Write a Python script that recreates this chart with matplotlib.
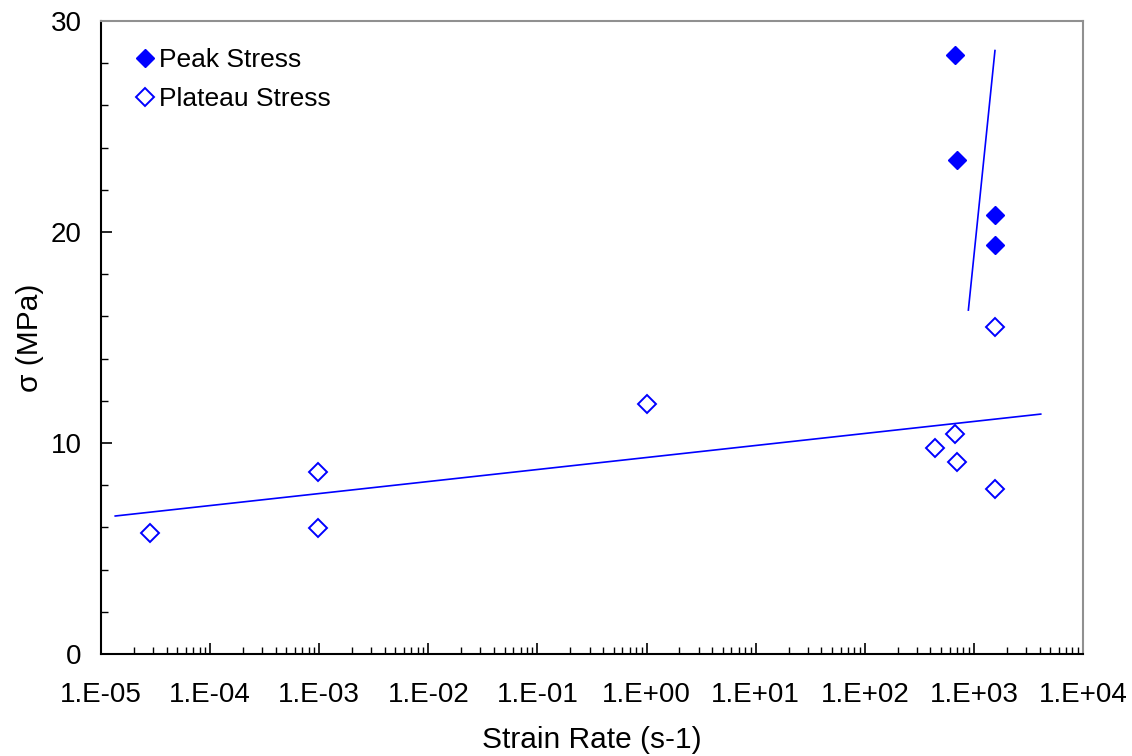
import matplotlib.pyplot as plt
from matplotlib.ticker import LogLocator, MultipleLocator, FixedLocator
import numpy as np

plt.rcParams['font.family'] = ['Liberation Sans', 'DejaVu Sans']

# data
peak_rate = [676, 700, 1560, 1560]
peak_stress = [28.4, 23.4, 20.8, 19.4]

plateau_rate = [2.8e-5, 9.8e-4, 9.8e-4, 1.0, 440, 676, 700, 1560, 1560]
plateau_stress = [5.73, 8.63, 5.97, 11.85, 9.76, 10.43, 9.1, 15.5, 7.82]

# trend line end points
peak_fit_rate = [890, 1560]
peak_fit_stress = [16.3, 28.6]
plateau_fit_rate = [1.35e-5, 4.1e3]
plateau_fit_stress = [6.54, 11.37]

x_ticks = [1e-5, 1e-4, 1e-3, 1e-2, 1e-1, 1e0, 1e1, 1e2, 1e3, 1e4]
x_ticklabels = ['1.E-05', '1.E-04', '1.E-03', '1.E-02', '1.E-01',
                '1.E+00', '1.E+01', '1.E+02', '1.E+03', '1.E+04']

blue = '#0000ff'

fig = plt.figure(figsize=(11.32, 7.56), dpi=100)
ax = fig.add_axes([101 / 1132, 102 / 756, 982 / 1132, 633 / 756])

ax.plot(peak_fit_rate, peak_fit_stress, color=blue, lw=1.2)
ax.plot(plateau_fit_rate, plateau_fit_stress, color=blue, lw=1.2)

ax.plot(peak_rate, peak_stress, ls='none', marker='D', ms=9.2,
        color=blue, mec=blue, label='Peak Stress')
ax.plot(plateau_rate, plateau_stress, ls='none', marker='D', ms=9.2,
        mfc='white', mec=blue, mew=1.4, label='Plateau Stress')

ax.set_xscale('log')
ax.set_xlim(1e-5, 1e4)
ax.set_ylim(0, 30)

ax.xaxis.set_major_locator(FixedLocator(x_ticks))
ax.set_xticklabels(x_ticklabels)
ax.xaxis.set_minor_locator(LogLocator(base=10, subs=np.arange(2, 10), numticks=20))
ax.xaxis.set_minor_formatter(plt.NullFormatter())
ax.yaxis.set_major_locator(MultipleLocator(10))
ax.yaxis.set_minor_locator(MultipleLocator(2))

ax.tick_params(axis='both', which='major', direction='in', length=8, width=1.2,
               labelsize=20, colors='black')
ax.tick_params(axis='both', which='minor', direction='in', length=5, width=1.0)
ax.tick_params(axis='x', which='major', pad=20)
ax.tick_params(axis='y', which='major', pad=14)

ax.spines['left'].set_linewidth(1.5)
ax.spines['bottom'].set_linewidth(1.5)
ax.spines['top'].set_color('#909090')
ax.spines['right'].set_color('#909090')
ax.spines['top'].set_linewidth(1.5)
ax.spines['right'].set_linewidth(1.5)

ax.set_xlabel('Strain Rate (s-1)', fontsize=21.5, labelpad=13)
ax.set_ylabel('σ (MPa)', fontsize=21.5, labelpad=5)

ax.legend(loc='upper left', frameon=False, fontsize=19, handlelength=0.6,
          handletextpad=0.25, labelspacing=0.55, borderaxespad=0.4,
          bbox_to_anchor=(0.015, 0.99))

fig.savefig('out.png', dpi=100)
